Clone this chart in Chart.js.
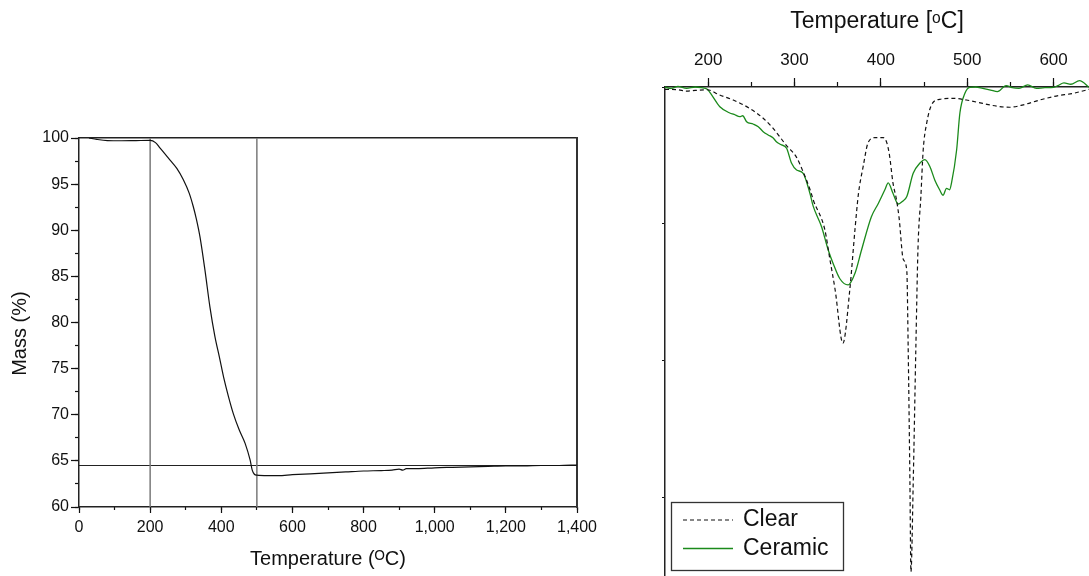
<!DOCTYPE html>
<html>
<head>
<meta charset="utf-8">
<title>TGA / DTG</title>
<script src="https://cdn.jsdelivr.net/npm/chart.js@4.4.1/dist/chart.umd.min.js"></script>
<style>
  html, body { margin: 0; padding: 0; background: #fff; }
  #wrap { position: relative; width: 1089px; height: 576px; overflow: hidden; }
  #tga { position: absolute; left: 0; top: 0; }
  #dtg { position: absolute; left: 620px; top: 0; }
</style>
</head>
<body>
<div id="wrap">
  <canvas id="tga" width="620" height="576"></canvas>
  <canvas id="dtg" width="469" height="576"></canvas>
</div>
<script>
// TGA (left): mass loss vs temperature
const massTemp = [28, 50, 80, 120, 160, 200, 215, 228, 256, 275, 293, 310, 321, 330, 340, 354, 368, 382, 395, 407,
  420, 434, 450, 467, 481, 487, 493, 500, 530, 560, 600, 650, 700, 750, 800, 850, 880, 900, 910, 920,
  950, 1000, 1050, 1100, 1150, 1200, 1250, 1300, 1350, 1400];
const massPct = [100.0, 99.85, 99.72, 99.7, 99.72, 99.74, 99.5, 98.9, 97.6, 96.7, 95.5, 94.0, 92.6, 91.2, 89.3, 85.7, 81.7, 78.5, 76.2, 74.0,
  72.0, 70.1, 68.4, 66.9, 65.1, 64.0, 63.55, 63.45, 63.4, 63.4, 63.5, 63.6, 63.7, 63.8, 63.9, 63.95, 64.0, 64.1, 64.0, 64.15,
  64.15, 64.25, 64.3, 64.35, 64.4, 64.45, 64.45, 64.5, 64.5, 64.55];
const markerTemps = [200, 500];
const plateauMass = 64.5;

// DTG (right): derivative signal, arbitrary units (0 = baseline at top axis)
const clearTemp = [150, 165, 175, 185, 199, 213, 229, 248, 264, 275, 291, 302, 310, 318, 322, 335, 341, 347, 356, 364,
  370, 374, 379.5, 385, 393, 403, 407, 410, 414, 418, 421, 426, 430, 431.6, 433.6, 434.8, 437.5, 440.5, 443, 446.3,
  449, 453, 458.7, 468, 484, 499, 518, 534, 549, 565, 584, 603, 623, 641];
const clearSignal = [-0.017, -0.02, -0.03, -0.025, -0.02, -0.058, -0.095, -0.156, -0.23, -0.30, -0.43, -0.51, -0.62, -0.75, -0.83, -1.04, -1.26, -1.48, -1.87, -1.48,
  -1.04, -0.78, -0.58, -0.41, -0.37, -0.37, -0.41, -0.5, -0.70, -0.82, -0.95, -1.26, -1.34, -1.9, -2.87, -3.54, -2.87, -1.9, -1.17, -0.80,
  -0.46, -0.265, -0.13, -0.09, -0.083, -0.095, -0.12, -0.14, -0.148, -0.13, -0.095, -0.066, -0.046, -0.017];
const ceramicTemp = [150, 157, 165, 175, 185, 192, 199, 204, 213.5, 225, 230, 236.6, 240, 244.5, 252, 258, 263.7, 269.5, 275, 279,
  284, 290.8, 296.6, 302.4, 310, 317.8, 321.6, 331.3, 339, 344.8, 352.5, 362, 370, 377.6, 389, 397, 404.6, 408.5, 414, 420,
  426, 430, 437.4, 445, 451, 456.7, 462.5, 468, 472, 476, 479.5, 481.8, 487.7, 491.5, 497.3, 503, 510, 518, 527, 535,
  545, 552, 560, 570, 580, 590, 600, 605, 612, 620, 630, 641];
const ceramicSignal = [0.0, -0.01, 0.005, -0.01, 0.0, -0.005, -0.017, -0.058, -0.144, -0.19, -0.2, -0.217, -0.21, -0.253, -0.27, -0.29, -0.326, -0.35, -0.37, -0.40,
  -0.42, -0.447, -0.557, -0.606, -0.63, -0.776, -0.87, -1.02, -1.19, -1.29, -1.40, -1.445, -1.36, -1.19, -0.947, -0.85, -0.75, -0.70, -0.776, -0.854,
  -0.83, -0.80, -0.63, -0.557, -0.53, -0.58, -0.68, -0.75, -0.79, -0.74, -0.75, -0.70, -0.46, -0.19, -0.046, -0.002, 0.0, -0.01, -0.022, -0.034,
  0.01, -0.005, -0.01, 0.015, -0.01, -0.005, -0.003, 0.01, 0.03, 0.02, 0.046, -0.002];
const dtgMajorTicks = [200, 300, 400, 500, 600];
const dtgMinorTicks = [200, 250, 300, 350, 400, 450, 500, 550, 600];

const ink = '#111';
const green = '#1b8a1b';
Chart.defaults.font.family = "'Liberation Sans', Arial, sans-serif";
Chart.defaults.color = ink;

const pts = (xs, ys) => xs.map((x, i) => ({ x, y: ys[i] }));
const useTicks = (vals) => (s) => { s.ticks = vals.map((value) => ({ value })); };

// pin an axis box to an exact size and drop the label overhang padding
const fixSize = (w, h) => (s) => {
  if (w != null) s.width = w;
  if (h != null) s.height = h;
  s.paddingLeft = s.paddingRight = s.paddingTop = s.paddingBottom = 0;
};

const noGrid = (len) => ({ drawOnChartArea: false, tickLength: len, tickColor: ink, tickWidth: 1.2 });

// ---------- left chart ----------
new Chart(document.getElementById('tga'), {
  type: 'line',
  data: {
    datasets: [
      { label: 'Mass', data: pts(massTemp, massPct), borderColor: ink, borderWidth: 1.2, pointRadius: 0, cubicInterpolationMode: 'monotone' },
      ...markerTemps.map((t) => ({ label: t + ' °C', data: [{ x: t, y: 60 }, { x: t, y: 100 }], borderColor: '#7a7a7a', borderWidth: 1.5, pointRadius: 0 })),
      { label: 'Residue', data: [{ x: 0, y: plateauMass }, { x: 1400, y: plateauMass }], borderColor: '#222', borderWidth: 1.2, pointRadius: 0 },
    ],
  },
  options: {
    responsive: false,
    animation: false,
    layout: { padding: { top: 138, right: 43, bottom: 0, left: 0 } },
    plugins: { legend: { display: false }, tooltip: { enabled: false } },
    scales: {
      x: {
        type: 'linear', position: 'bottom', weight: 1, min: 0, max: 1400,
        ticks: { stepSize: 200, autoSkip: false, maxRotation: 0, padding: 5, font: { size: 16 }, callback: (v) => v.toLocaleString('en-US') },
        grid: noGrid(6),
        border: { color: '#222', width: 1.5 },
        title: { display: true, text: 'Temperature (ᴼC)', font: { size: 20 }, padding: { top: 0, bottom: 5 } },
        afterFit: fixSize(null, 69),
      },
      xMinor: {
        type: 'linear', position: 'bottom', weight: 0, min: 0, max: 1400,
        ticks: { stepSize: 100, display: false },
        grid: noGrid(3),
        border: { display: false },
        afterFit: fixSize(null, 0),
      },
      xTop: {
        type: 'linear', position: 'top', min: 0, max: 1400,
        ticks: { display: false },
        grid: { drawOnChartArea: false, drawTicks: false },
        border: { color: '#222', width: 1.5 },
        afterFit: fixSize(null, 0),
      },
      y: {
        type: 'linear', position: 'left', weight: 1, min: 60, max: 100,
        ticks: { stepSize: 5, padding: 2, font: { size: 16 } },
        grid: noGrid(8),
        border: { color: '#222', width: 1.5 },
        title: { display: true, text: 'Mass (%)    ', font: { size: 20 }, padding: { top: 8, bottom: 0 } },
        afterFit: fixSize(79, null),
      },
      yMinor: {
        type: 'linear', position: 'left', weight: 0, min: 60, max: 100,
        ticks: { stepSize: 2.5, display: false },
        grid: noGrid(4),
        border: { display: false },
        afterFit: fixSize(0, null),
      },
      yRight: {
        type: 'linear', position: 'right', min: 60, max: 100,
        ticks: { display: false },
        grid: { drawOnChartArea: false, drawTicks: false },
        border: { color: '#333', width: 2 },
        afterFit: fixSize(0, null),
      },
    },
  },
});

// ---------- right chart ----------
const boxLegend = {
  id: 'boxLegend',
  afterDraw(chart, args, o) {
    const { ctx, chartArea } = chart;
    const left = chartArea.left + o.inset;
    const top = chartArea.bottom - o.inset - o.height;
    ctx.save();
    ctx.lineWidth = 1.3;
    ctx.strokeStyle = '#333';
    ctx.strokeRect(left + 0.5, top + 0.5, o.width, o.height);
    ctx.font = o.fontSize + "px 'Liberation Sans', Arial, sans-serif";
    ctx.textBaseline = 'middle';
    ctx.fillStyle = ink;
    chart.data.datasets.forEach((ds, i) => {
      const y = top + o.firstRow + i * o.rowGap;
      ctx.beginPath();
      ctx.setLineDash(ds.borderDash || []);
      ctx.strokeStyle = ds.borderColor;
      ctx.lineWidth = ds.borderWidth;
      ctx.moveTo(left + o.lineStart, y);
      ctx.lineTo(left + o.lineEnd, y);
      ctx.stroke();
      ctx.setLineDash([]);
      ctx.fillText(ds.label, left + o.textStart, y);
    });
    ctx.restore();
  },
};

new Chart(document.getElementById('dtg'), {
  type: 'line',
  data: {
    datasets: [
      { label: 'Clear', data: pts(clearTemp, clearSignal), borderColor: ink, borderWidth: 1.2, borderDash: [4, 3], pointRadius: 0, clip: false, cubicInterpolationMode: 'monotone' },
      { label: 'Ceramic', data: pts(ceramicTemp, ceramicSignal), borderColor: green, borderWidth: 1.3, pointRadius: 0, clip: false, cubicInterpolationMode: 'monotone' },
    ],
  },
  plugins: [boxLegend],
  options: {
    responsive: false,
    animation: false,
    layout: { padding: 0 },
    plugins: {
      legend: { display: false },
      tooltip: { enabled: false },
      boxLegend: { inset: 6, width: 172, height: 68, firstRow: 18, rowGap: 28.5, lineStart: 12, lineEnd: 62, textStart: 72, fontSize: 23 },
    },
    scales: {
      x: {
        type: 'linear', position: 'top', weight: 1, min: 150, max: 641,
        afterBuildTicks: useTicks(dtgMajorTicks),
        ticks: { autoSkip: false, maxRotation: 0, padding: 7, font: { size: 17 } },
        grid: noGrid(9),
        border: { color: '#222', width: 1.5 },
        title: { display: true, text: 'Temperature [ᵒC]', font: { size: 23 }, padding: { top: 8, bottom: 0 } },
        afterFit: fixSize(null, 87),
      },
      xMinor: {
        type: 'linear', position: 'top', weight: 0, min: 150, max: 641,
        afterBuildTicks: useTicks(dtgMinorTicks),
        ticks: { display: false },
        grid: noGrid(5),
        border: { display: false },
        afterFit: fixSize(null, 0),
      },
      y: {
        type: 'linear', position: 'left', min: -3.57, max: 0,
        ticks: { stepSize: 1, display: false },
        grid: noGrid(3),
        border: { color: '#222', width: 1.5 },
        afterFit: fixSize(45, null),
      },
    },
  },
});
</script>
</body>
</html>
